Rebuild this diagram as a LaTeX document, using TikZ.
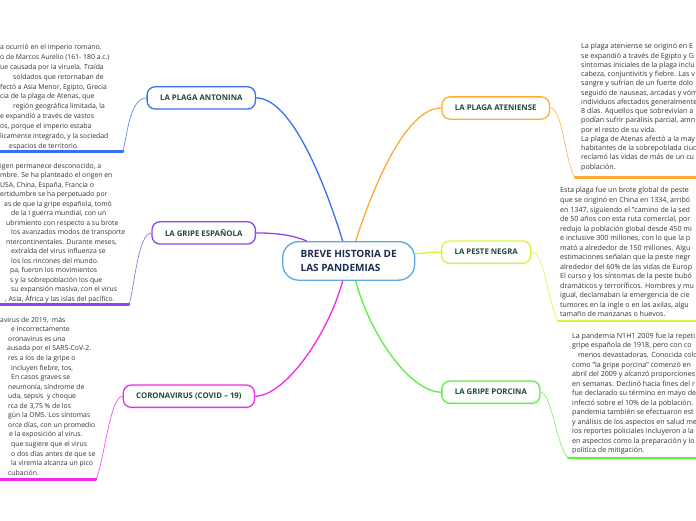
\documentclass[tikz,border=0pt]{standalone}
\usepackage{fontspec}
\setmainfont{Open Sans}
\usepackage{tikz}
\usetikzlibrary{positioning,calc}
\definecolor{cHub}{HTML}{5BA8DE}
\definecolor{cHubTxt}{HTML}{1C2C52}
\definecolor{cTopicTxt}{HTML}{1E4B3B}
\definecolor{cNote}{HTML}{333333}
\definecolor{cAnt}{HTML}{3A6DF5}
\definecolor{cAten}{HTML}{FFAA33}
\definecolor{cEsp}{HTML}{8E44EE}
\definecolor{cPeste}{HTML}{D9F23D}
\definecolor{cCov}{HTML}{EE2BEA}
\definecolor{cPorc}{HTML}{5BEF3F}
\tikzset{
  hub/.style    ={rectangle, rounded corners=16pt, draw=cHub, line width=1.3pt, fill=white,
                  text=cHubTxt, font=\fontsize{10}{13.7}\selectfont\bfseries, align=left,
                  minimum width=132pt, minimum height=38.5pt},
  topic/.style  ={rectangle, rounded corners=8pt, draw=#1, line width=1.3pt, fill=white,
                  text=cTopicTxt, font=\fontsize{7.8}{9}\selectfont\bfseries,
                  inner xsep=13pt, minimum height=22.3pt},
  note/.style 2 args={anchor=north west, inner sep=0pt, align=left, text=cNote,
                  font=\fontsize{#1}{#2}\selectfont},
  branch/.style ={draw=#1, line width=1.3pt},
  twig/.style   ={draw=#1, line width=0.7pt, draw opacity=0.8},
  uline/.style  ={draw=#1, line width=2.4pt, line cap=round},
}

\begin{document}
\begin{tikzpicture}[x=1pt, y=-1pt]
  \useasboundingbox (0,0) rectangle (696,520);
  \clip (0,0) rectangle (696,520);

  \node[hub] (hub) at (348.7,260.9) {BREVE HISTORIA DE\\LAS PANDEMIAS};
  \node[topic=cAnt]   (ant)   at (201.3,97.9)  {LA PLAGA ANTONINA};
  \node[topic=cAten]  (aten)  at (495.7,108)   {LA PLAGA ATENIENSE};
  \node[topic=cEsp]   (esp)   at (203.7,232.9) {LA GRIPE ESPAÑOLA};
  \node[topic=cPeste] (peste) at (486.2,252.2) {LA PESTE NEGRA};
  \node[topic=cCov]   (covid) at (188.9,396.2) {CORONAVIRUS (COVID – 19)};
  \node[topic=cPorc]  (porc)  at (490.9,392.2) {LA GRIPE PORCINA};

  % branches from the hub
  \draw[branch=cAnt]   ([xshift=-6pt]hub.north) .. controls (330,200) and (295,98) .. (ant.east);
  \draw[branch=cAten]  ([xshift=7pt]hub.north) .. controls (372,190) and (405,108) .. (aten.west);
  \draw[branch=cEsp]   ([xshift=-42pt]hub.north) .. controls (295,236) and (280,233) .. (esp.east);
  \draw[branch=cPeste] ([yshift=7pt]hub.east) .. controls (425,253) and (430,252) .. (peste.west);
  \draw[branch=cCov]   ([xshift=-6pt]hub.south) .. controls (328,335) and (285,396) .. (covid.east);
  \draw[branch=cPorc]  ([xshift=7pt]hub.south) .. controls (370,335) and (410,392) .. (porc.west);

  % notes
  \node[note={6.85}{9.85}] (antTxt) at (0,44.2) {%
    a ocurrió en el imperio romano,\\
    o de Marcos Aurelio (161- 180 a.c.)\\
    ue causada por la viruela. Traída\\
    \hspace*{13pt}soldados que retornaban de\\
    fectó a Asia Menor, Egipto, Grecia\\
    cia de la plaga de Atenas, que\\
    \hspace*{13pt}región geográfica limitada, la\\
    e expandió a través de vastos\\
    os, porque el imperio estaba\\
    licamente integrado, y la sociedad\\
    \hspace*{9pt}espacios de territorio.};
  \node[note={6.85}{9.5}] (espTxt) at (0,162.8) {%
    igen permanece desconocido, a\\
    mbre. Se ha planteado el origen en\\
    USA, China, España, Francia o\\
    ertidumbre se ha perpetuado por\\
    \hspace*{4pt}as de que la gripe española, tomó\\
    \hspace*{11pt}de la I guerra mundial, con un\\
    \hspace*{6pt}ubrimiento con respecto a su brote\\
    \hspace*{11pt}los avanzados modos de transporte\\
    \hspace*{6pt}ntercontinentales. Durante meses,\\
    \hspace*{11pt}extraída del virus influenza se\\
    \hspace*{11pt}los los rincones del mundo.\\
    \hspace*{10pt}pa, fueron los movimientos\\
    \hspace*{10pt}s y la sobrepoblación los que\\
    \hspace*{11pt}su expansión masiva, con el virus\\
    \hspace*{5pt}, Asia, África y las islas del pacífico.};
  \node[note={6.85}{9.56}] (covTxt) at (0,316.8) {%
    avirus de 2019,\ \ más\\
    \hspace*{11pt}e incorrectamente\\
    \hspace*{8pt}oronavirus es una\\
    \hspace*{7pt}ausada por el SARS-CoV-2.\\
    \hspace*{8pt}res a los de la gripe o\\
    \hspace*{11pt}incluyen fiebre, tos,\\
    \hspace*{11pt}En casos graves se\\
    \hspace*{8pt}neumonía, síndrome de\\
    \hspace*{8pt}uda, sepsis\ \ y choque\\
    \hspace*{8pt}rca de 3,75 \% de los\\
    \hspace*{8pt}gún la OMS. Los síntomas\\
    \hspace*{8pt}orce días, con un promedio\\
    \hspace*{9pt}e la exposición al virus.\\
    \hspace*{11pt}que sugiere que el virus\\
    \hspace*{11pt}o dos días antes de que se\\
    \hspace*{11pt}la viremia alcanza un pico\\
    \hspace*{8pt}cubación.};
  \node[note={7.1}{9.26}] (atenTxt) at (581,43.2) {%
    La plaga ateniense se originó en E\\
    se expandió a través de Egipto y G\\
    síntomas iniciales de la plaga inclu\\
    cabeza, conjuntivitis y fiebre. Las v\\
    sangre y sufrían de un fuerte dolo\\
    seguido de nauseas, arcadas y vóm\\
    individuos afectados generalmente\\
    8 días. Aquellos que sobrevivían a\\
    podían sufrir parálisis parcial, amn\\
    por el resto de su vida.\\
    La plaga de Atenas afectó a la may\\
    habitantes de la sobrepoblada ciud\\
    reclamó las vidas de más de un cu\\
    población.};
  \node[note={7.1}{9.54}] (pesteTxt) at (560,187.3) {%
    Esta plaga fue un brote global de peste\\
    que se originó en China en 1334, arribó\\
    en 1347, siguiendo el "camino de la sed\\
    de 50 años con esta ruta comercial, por\\
    redujo la población global desde 450 mi\\
    e inclusive 300 millones, con lo que la p\\
    mató a alrededor de 150 millones. Algu\\
    estimaciones señalan que la peste negr\\
    alrededor del 60\% de las vidas de Europ\\
    El curso y los síntomas de la peste bubó\\
    dramáticos y terroríficos. Hombres y mu\\
    igual, declamaban la emergencia de cie\\
    tumores en la ingle o en las axilas, algu\\
    tamaño de manzanas o huevos.};
  \node[note={7.1}{9.53}] (porcTxt) at (572,332.8) {%
    La pandemia N1H1 2009 fue la repeti\\
    gripe española de 1918, pero con co\\
    \hspace*{6pt}menos devastadoras. Conocida coloq\\
    como "la gripe porcina" comenzó en\\
    abril del 2009 y alcanzó proporciones\\
    en semanas. Declinó hacia fines del r\\
    fue declarado su término en mayo de\\
    infectó sobre el 10\% de la población.\\
    pandemia también se efectuaron est\\
    y análisis de los aspectos en salud me\\
    los reportes policiales incluyeron a la\\
    en aspectos como la preparación y lo\\
    política de mitigación.};

  % twigs to the notes
  \coordinate (antU)   at (123,151.5);  \coordinate (antE)   at (-3,151.5);
  \coordinate (espU)   at (129,304.5);  \coordinate (espE)   at (-3,304.5);
  \coordinate (covU)   at (96,479.5);   \coordinate (covE)   at (-3,479.5);
  \coordinate (atenU)  at (575,177.5);  \coordinate (atenE)  at (699,177.5);
  \coordinate (pesteU) at (558,321);    \coordinate (pesteE) at (699,321);
  \coordinate (porcU)  at (568,458);    \coordinate (porcE)  at (699,458);

  \draw[twig=cAnt]   (ant.west) .. controls (130,98) and (127,135) .. (antU);
  \draw[twig=cEsp]   (esp.west) .. controls (138,233) and (134,290) .. (espU);
  \draw[twig=cCov]   (covid.west) .. controls (110,396) and (104,462) .. (covU);
  \draw[twig=cAten]  (aten.east) .. controls (563,108) and (565,163) .. (atenU);
  \draw[twig=cPeste] (peste.east) .. controls (545,252) and (548,305) .. (pesteU);
  \draw[twig=cPorc]  (porc.east) .. controls (552,393) and (556,445) .. (porcU);

  \draw[uline=cAnt]   (antU) -- (antE);
  \draw[uline=cEsp]   (espU) -- (espE);
  \draw[uline=cCov]   (covU) -- (covE);
  \draw[uline=cAten]  (atenU) -- (atenE);
  \draw[uline=cPeste] (pesteU) -- (pesteE);
  \draw[uline=cPorc]  (porcU) -- (porcE);
\end{tikzpicture}
\end{document}
